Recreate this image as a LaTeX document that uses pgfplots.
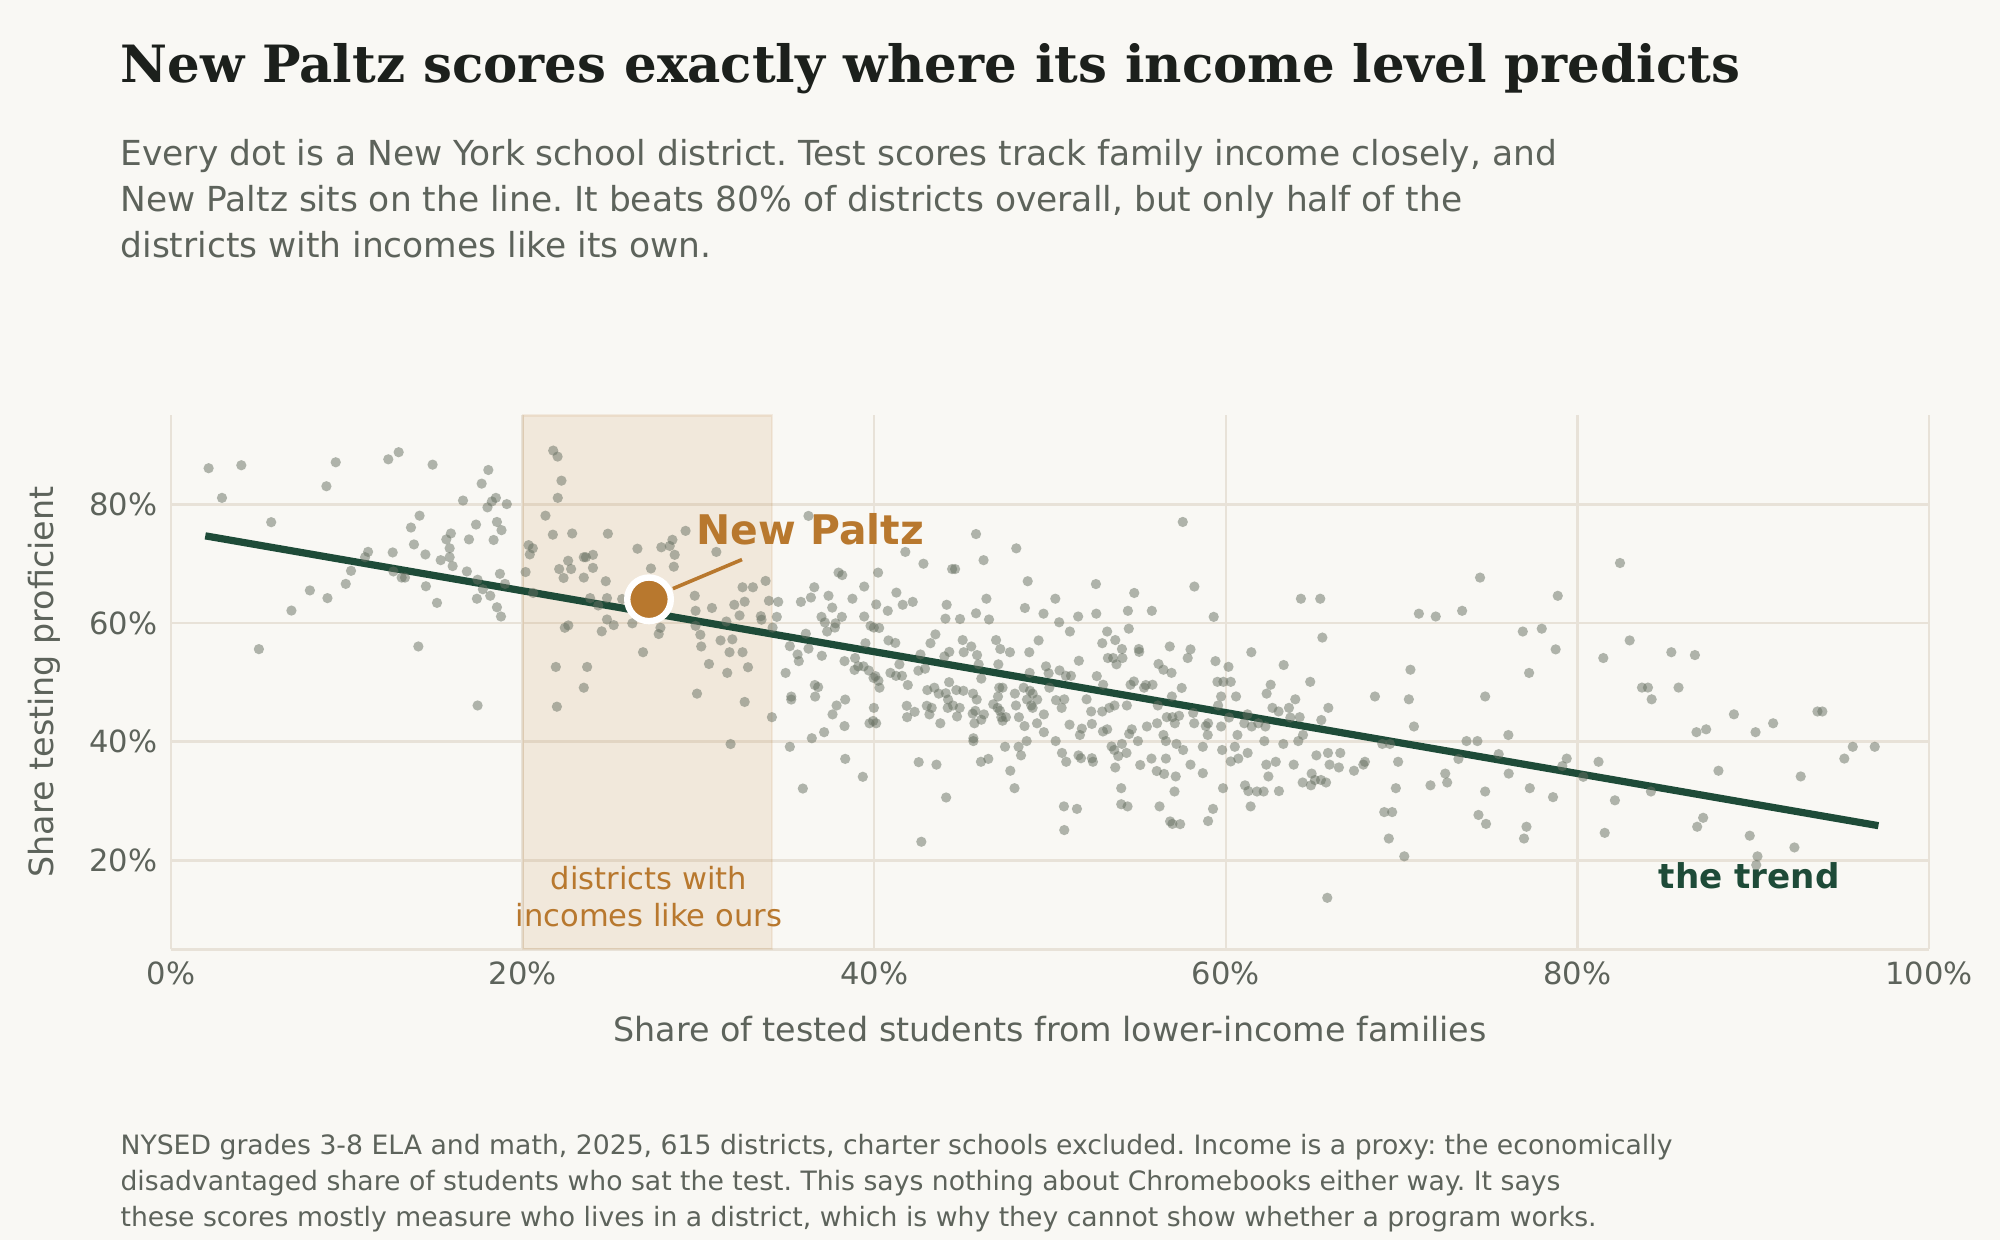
\documentclass[border=0pt]{standalone}
\usepackage{pgfplots}
\pgfplotsset{compat=1.18}
\usepackage{pgfplotstable}
\usepackage{fontspec}
\setmainfont{DejaVu Sans}
\newfontfamily\serifbold{DejaVu Serif}[BoldFont={DejaVu Serif Bold}]
\frenchspacing
\definecolor{bg}{HTML}{F9F8F4}
\definecolor{gridc}{HTML}{E8E2D8}
\definecolor{dotc}{HTML}{677062}
\definecolor{trend}{HTML}{1E4B38}
\definecolor{npor}{HTML}{B8782E}
\definecolor{titlec}{HTML}{1C201C}
\definecolor{txtc}{HTML}{5D635B}

\pgfplotstableread{
x y
2.14 86.1
2.9 81.1
4.0 86.6
5.7 77.0
5.0 55.6
6.85 62.1
7.9 65.5
8.9 64.2
8.84 83.06
9.37 87.1
9.94 66.6
10.24 68.8
11.04 71.1
11.21 72.0
12.36 87.6
12.95 88.8
12.61 71.9
12.65 68.7
13.12 67.66
13.31 67.66
13.65 76.1
14.14 78.1
13.82 73.25
14.47 71.56
14.5 66.2
14.07 56.05
14.88 86.7
15.13 63.4
15.34 70.6
15.66 74.1
15.92 75.1
15.85 72.6
15.85 71.1
16.02 69.6
16.61 80.65
16.95 74.1
16.83 68.7
17.35 76.6
17.67 83.5
18.05 85.8
17.44 67.3
17.4 64.1
17.74 65.7
18.16 64.6
18.54 62.66
18.77 61.1
17.44 46.1
18.0 79.5
18.25 80.5
18.48 81.1
18.54 77.04
18.8 75.66
18.35 74.0
19.1 80.05
18.71 68.3
19.0 66.6
20.17 68.6
20.34 73.13
20.58 72.6
20.41 71.57
20.6 65.07
21.3 78.1
21.74 89.07
21.99 88.06
22.21 84.0
22.0 81.1
21.72 74.9
22.82 75.1
22.59 70.5
22.08 69.1
22.33 67.6
22.76 69.1
23.48 71.1
23.6 71.1
24.0 71.5
24.0 69.3
23.48 67.66
23.84 64.2
24.3 62.96
24.73 67.05
24.8 64.2
24.85 75.06
22.4 59.2
22.6 59.6
24.5 58.6
24.8 60.6
21.89 52.6
23.67 52.6
23.48 49.1
21.95 45.9
25.18 59.65
25.66 64.05
26.24 59.95
26.53 72.53
27.3 69.2
27.89 72.77
28.37 73.0
28.52 74.03
28.65 71.5
28.6 69.5
29.27 75.54
26.85 55.08
27.74 58.15
27.84 59.2
29.79 64.6
29.84 62.06
29.84 59.53
30.11 58.03
30.16 56.05
30.6 53.1
29.92 48.1
30.77 62.54
31.02 71.99
31.26 57.07
31.64 51.6
31.77 55.08
31.93 57.25
31.83 39.6
31.59 60.26
32.04 63.08
32.34 61.28
32.63 63.6
32.51 66.03
33.1 66.03
33.82 67.1
32.51 55.08
32.82 52.55
32.63 46.7
33.55 61.16
33.59 60.56
34.01 63.75
34.54 63.57
34.46 61.04
34.22 59.23
34.18 44.13
34.96 51.59
35.2 56.1
35.28 47.6
35.28 47.1
35.2 39.14
35.64 54.7
35.71 53.58
35.83 63.57
36.26 78.06
36.4 64.3
36.59 66.03
36.11 58.2
36.26 55.68
35.94 32.1
36.45 40.58
36.62 49.55
36.81 49.2
36.64 47.6
37.0 61.04
37.19 60.1
37.32 58.57
37.02 54.48
37.4 64.6
37.61 62.6
37.15 41.6
37.8 59.95
37.76 59.23
38.16 61.04
37.97 68.5
38.18 68.08
37.63 44.6
37.86 46.1
38.35 47.1
38.31 42.63
38.35 37.1
38.31 53.58
38.76 64.1
38.91 54.1
38.88 52.1
39.09 52.7
39.43 66.15
39.43 61.1
39.39 52.7
39.35 34.08
39.5 56.6
39.79 59.53
39.98 59.23
39.69 52.0
39.96 50.75
40.07 51.05
39.98 45.7
39.94 43.5
39.73 43.1
40.11 43.1
40.24 50.27
40.3 49.1
40.22 68.5
40.11 63.14
40.28 59.17
40.77 62.06
40.81 57.07
40.92 51.6
41.26 65.13
41.2 56.65
41.24 51.1
41.43 53.04
41.58 51.1
41.62 63.08
41.77 71.99
41.91 49.55
42.19 63.57
41.85 46.05
41.87 44.13
42.3 45.03
42.8 70.0
42.63 54.7
42.51 51.97
42.89 52.3
42.68 23.13
42.53 36.55
43.02 48.7
42.99 46.05
43.27 45.7
43.14 44.6
43.42 49.1
43.54 36.13
43.2 56.6
43.48 58.09
43.67 48.1
43.76 43.1
44.09 30.59
44.05 60.74
44.12 63.08
44.07 48.16
43.99 54.36
44.27 55.14
44.26 50.03
44.2 47.1
44.18 45.7
44.43 69.1
44.6 69.1
44.48 46.1
44.67 48.7
44.71 44.25
44.86 45.7
44.88 60.68
45.03 57.13
45.09 55.08
45.07 48.58
45.52 56.05
45.62 48.1
45.6 44.73
45.64 40.58
45.64 40.1
45.75 45.2
45.7 43.1
45.79 75.0
45.79 61.64
45.85 54.6
45.94 53.04
45.83 47.1
46.07 36.61
46.09 50.63
46.09 43.7
46.22 70.6
46.24 44.6
46.38 64.1
46.49 37.1
46.53 60.6
46.77 46.3
46.93 57.13
47.06 53.04
47.11 49.1
47.04 47.6
47.17 55.62
47.02 45.7
47.15 45.2
47.23 44.13
47.3 49.1
47.3 43.53
47.49 44.13
47.44 39.14
47.72 55.08
47.74 35.1
47.98 32.16
48.0 48.1
48.06 46.1
48.08 72.59
48.23 44.13
48.21 39.14
48.35 37.69
48.57 62.54
48.55 42.63
48.5 49.1
48.73 67.05
48.69 47.1
48.67 40.1
48.82 55.08
48.93 46.1
49.01 45.7
48.84 51.6
48.86 48.58
49.01 48.1
49.26 43.1
49.27 47.1
49.35 57.07
49.63 61.58
49.65 44.6
49.65 41.6
49.77 52.7
49.92 51.53
49.96 49.1
50.3 64.1
50.52 60.13
50.54 52.01
50.9 51.1
51.19 51.1
50.81 47.14
50.66 45.7
50.34 47.0
50.32 40.1
50.68 38.1
50.92 36.61
50.79 29.09
50.81 25.1
51.11 42.87
51.13 58.57
51.53 28.67
51.6 61.1
51.64 53.64
51.62 37.69
51.76 37.21
51.7 41.13
51.81 42.2
52.08 47.14
52.34 45.09
52.38 42.99
52.38 37.21
52.44 36.61
52.61 66.57
52.63 61.58
52.66 51.05
52.97 56.6
53.02 49.6
52.97 45.09
53.01 41.72
53.25 42.08
53.25 58.57
53.29 54.1
53.37 45.7
53.5 39.2
53.65 38.6
53.67 46.1
53.71 57.13
53.59 54.1
53.78 53.04
53.71 35.65
53.88 37.57
54.05 32.16
54.05 29.45
54.09 55.62
54.12 54.1
54.09 39.62
54.35 38.1
54.41 29.09
54.37 46.1
54.43 62.06
54.48 59.05
54.5 41.3
54.65 42.08
54.58 49.6
54.77 50.15
54.79 65.07
55.0 40.1
55.05 55.62
55.07 55.14
55.13 36.07
55.35 49.1
55.45 49.55
55.51 42.56
55.79 62.06
55.83 49.6
55.77 37.15
56.07 35.05
56.09 43.1
56.17 53.1
56.13 46.1
56.23 29.09
56.45 52.13
56.45 41.13
56.49 34.56
56.59 40.1
56.59 37.15
56.64 44.13
56.81 56.05
56.83 26.56
56.96 26.14
56.91 51.6
56.93 47.62
56.96 44.13
57.1 43.1
57.15 34.14
57.08 31.6
57.19 39.62
57.34 44.37
57.4 26.1
57.49 49.06
57.55 77.04
57.57 38.6
57.83 54.1
57.99 55.56
57.99 36.13
58.14 44.85
58.21 66.15
58.2 43.1
58.69 39.14
58.69 34.69
58.86 42.63
58.99 43.1
58.97 41.13
58.99 26.62
59.27 28.67
59.31 61.04
59.41 53.58
59.52 50.09
59.56 46.1
59.73 47.62
59.73 42.56
59.79 38.6
59.86 50.09
60.15 52.62
60.18 44.07
60.28 50.09
59.84 32.16
60.28 36.67
60.51 39.14
60.58 47.62
60.66 41.13
60.71 37.15
61.05 43.1
61.09 32.64
61.23 44.61
61.24 38.1
61.28 31.67
61.41 29.09
61.45 55.08
61.47 42.56
61.77 31.6
61.85 43.1
62.15 31.6
62.19 40.1
62.25 42.56
62.3 36.13
62.32 48.1
62.42 34.14
62.55 49.6
62.65 45.7
62.84 36.61
63.0 45.09
63.02 31.67
63.29 52.92
63.27 39.62
63.59 45.7
63.67 44.07
63.86 36.13
63.95 47.14
64.2 44.13
64.12 40.1
64.37 33.12
64.27 64.1
64.39 41.13
64.8 50.09
64.88 34.62
64.84 32.64
65.07 33.54
65.15 37.69
65.37 64.1
65.43 43.65
65.49 57.55
65.41 33.54
65.7 33.12
65.77 13.68
65.83 45.7
65.81 38.1
65.9 36.13
66.43 35.65
66.51 38.1
67.29 35.1
67.82 36.13
67.91 36.61
68.48 47.62
68.9 39.62
69.33 39.62
69.01 28.13
69.46 28.13
69.27 23.67
69.67 32.16
69.8 36.61
70.15 20.67
70.41 47.14
70.5 52.13
70.7 42.56
70.98 61.58
71.94 61.1
71.64 32.64
72.48 34.62
72.59 33.12
73.23 37.09
73.44 62.06
73.69 40.1
74.31 40.1
74.37 27.65
74.46 67.66
74.75 47.62
74.75 31.6
74.8 26.14
75.52 37.9
76.07 41.12
76.09 34.62
76.89 58.57
77.97 59.05
77.25 51.59
78.76 55.56
78.88 64.59
77.29 32.16
77.1 25.66
76.96 23.67
78.61 30.65
79.14 35.89
79.39 37.15
80.33 34.08
81.2 36.61
81.47 54.1
81.55 24.63
82.13 30.11
82.42 70.12
82.97 57.07
83.67 49.12
84.01 49.12
84.22 47.14
84.18 31.6
85.34 55.08
85.75 49.12
86.68 54.6
86.77 41.6
87.32 42.08
87.15 27.17
86.81 25.66
88.02 35.1
88.9 44.61
89.8 24.15
90.13 41.6
90.24 20.67
90.17 19.22
91.13 43.1
92.34 22.17
92.7 34.14
93.65 45.09
93.93 45.09
95.18 37.15
95.66 39.14
96.91 39.14
}\districts

\pgfplotstableread{
x y
1.95 74.7
97.12 25.84
}\trendline

\pgfplotstableread{
x y
27.19 64.0
}\newpaltz

\pgfplotstableread{
x y
28.55 65.8
32.48 70.7
}\leader

\begin{document}
\begin{tikzpicture}[x=1pt,y=1pt]
\fill[bg] (0,0) rectangle (720,446.4);

\node[anchor=base west, inner sep=0pt, text=titlec, font=\serifbold\bfseries\fontsize{18.5}{22}\selectfont] at (43.2,416.6) {New Paltz scores exactly where its income level predicts};

\begin{scope}[every node/.style={anchor=base west, inner sep=0pt, text=txtc, font=\fontsize{12.4}{15}\selectfont}]
\node at (43.2,386.75) {Every dot is a New York school district. Test scores track family income closely, and};
\node at (43.2,370.2) {New Paltz sits on the line. It beats 80\% of districts overall, but only half of the};
\node at (43.2,353.8) {districts with incomes like its own.};
\end{scope}

\begin{axis}[
  at={(61.56pt,104.65pt)}, anchor=south west,
  scale only axis, width=632.9pt, height=192.2pt,
  xmin=0, xmax=100, ymin=5, ymax=95,
  xtick={0,20,40,60,80,100},
  xticklabels={0\%,20\%,40\%,60\%,80\%,100\%},
  ytick={20,40,60,80},
  yticklabels={20\%,40\%,60\%,80\%},
  grid=major,
  major grid style={draw=gridc, line width=0.9pt},
  axis x line*=bottom, axis y line*=left,
  axis line style={draw=gridc, line width=0.9pt, -},
  major tick length=0pt, tick style={draw=none},
  ticklabel style={text=txtc, font=\fontsize{11}{13}\selectfont, inner sep=0pt},
  xticklabel style={anchor=north, yshift=-4.4pt},
  yticklabel style={anchor=east, xshift=-4.8pt},
  clip=false,
]
\addplot[draw=npor, draw opacity=0.1, fill=npor, fill opacity=0.12, line width=0.8pt]
  coordinates {(20,5) (34.2,5) (34.2,95) (20,95)} -- cycle;

\addplot[only marks, mark=*, mark size=1.85pt, color=dotc,
  mark options={draw opacity=0, fill=dotc, fill opacity=0.5, line width=0pt}] table[x=x,y=y] {\districts};

\addplot[draw=trend, line width=2.6pt, no marks] table[x=x,y=y] {\trendline};

\addplot[draw=npor, line width=1.3pt, no marks] table[x=x,y=y] {\leader};

\addplot[only marks, mark=*, mark size=7.85pt,
  mark options={fill=npor, draw=white, line width=2.3pt}] table[x=x,y=y] {\newpaltz};

\node[anchor=base west, inner sep=0pt, text=npor, font=\bfseries\fontsize{14.7}{17}\selectfont] at (axis cs:29.87,73.3) {New Paltz};
\node[anchor=base east, inner sep=0pt, text=trend, font=\bfseries\fontsize{12.3}{15}\selectfont] at (axis cs:94.95,15.3) {the trend};
\node[anchor=base, inner sep=0pt, text=npor, font=\fontsize{11}{13}\selectfont] at (axis cs:27.18,15.1) {districts with};
\node[anchor=base, inner sep=0pt, text=npor, font=\fontsize{11}{13}\selectfont] at (axis cs:27.18,8.9) {incomes like ours};
\end{axis}

\node[anchor=base, inner sep=0pt, text=txtc, font=\fontsize{12}{14}\selectfont] at (378,71.3) {Share of tested students from lower-income families};
\node[anchor=base, rotate=90, inner sep=0pt, text=txtc, font=\fontsize{12}{14}\selectfont] at (19.2,200.9) {Share testing proficient};

\begin{scope}[every node/.style={anchor=base west, inner sep=0pt, text=txtc, font=\fontsize{9.6}{11.5}\selectfont}]
\node at (43.2,30.6) {NYSED grades 3-8 ELA and math, 2025, 615 districts, charter schools excluded. Income is a proxy: the economically};
\node at (43.2,17.75) {disadvantaged share of students who sat the test. This says nothing about Chromebooks either way. It says};
\node at (43.2,4.8) {these scores mostly measure who lives in a district, which is why they cannot show whether a program works.};
\end{scope}

\pgfresetboundingbox
\useasboundingbox (0,0) rectangle (720,446.4);
\end{tikzpicture}
\end{document}
